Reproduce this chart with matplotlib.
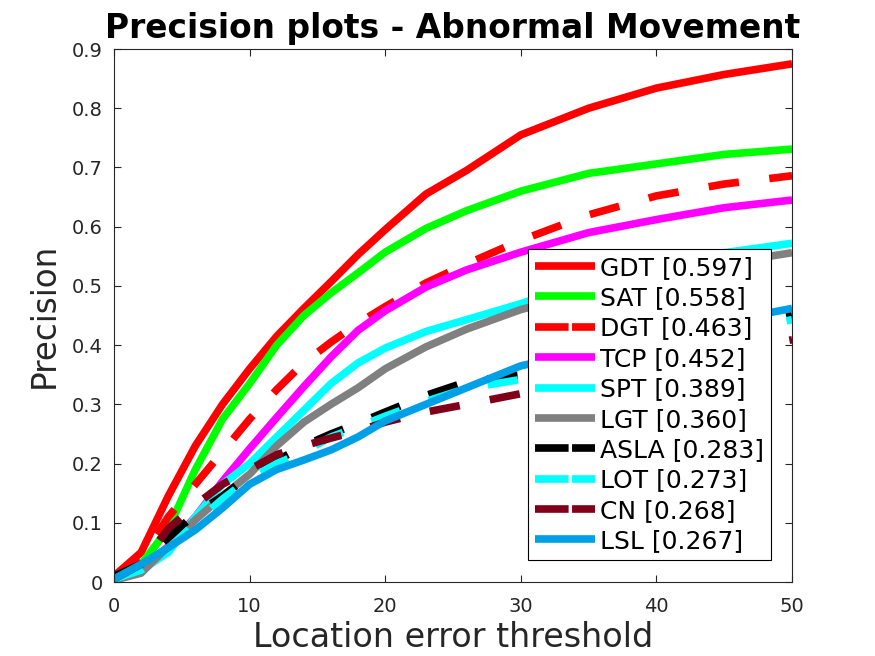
import matplotlib
matplotlib.use("Agg")
import matplotlib.pyplot as plt

thresholds = [0, 2, 4, 6, 8, 10, 12, 14, 16, 18, 20, 23, 26, 30, 35, 40, 45, 50]

names = ["GDT", "SAT", "DGT", "TCP", "SPT", "LGT", "ASLA", "LOT", "CN", "LSL"]
scores = ["0.597", "0.558", "0.463", "0.452", "0.389", "0.360", "0.283", "0.273", "0.268", "0.267"]

gdt  = [0.010, 0.050, 0.145, 0.230, 0.300, 0.360, 0.415, 0.462, 0.507, 0.553, 0.595, 0.655, 0.695, 0.755, 0.800, 0.834, 0.857, 0.875]
sat  = [0.005, 0.030, 0.090, 0.190, 0.275, 0.335, 0.400, 0.450, 0.488, 0.522, 0.557, 0.597, 0.627, 0.660, 0.690, 0.706, 0.722, 0.731]
dgt  = [0.010, 0.040, 0.110, 0.165, 0.220, 0.275, 0.325, 0.370, 0.405, 0.437, 0.465, 0.505, 0.537, 0.577, 0.620, 0.652, 0.672, 0.686]
tcp  = [0.005, 0.020, 0.060, 0.110, 0.170, 0.225, 0.278, 0.330, 0.380, 0.425, 0.458, 0.498, 0.527, 0.557, 0.590, 0.612, 0.632, 0.645]
spt  = [0.005, 0.020, 0.050, 0.110, 0.165, 0.200, 0.245, 0.290, 0.335, 0.370, 0.395, 0.423, 0.443, 0.470, 0.508, 0.535, 0.556, 0.572]
lgt  = [0.003, 0.015, 0.060, 0.105, 0.145, 0.182, 0.230, 0.270, 0.300, 0.328, 0.360, 0.397, 0.427, 0.460, 0.490, 0.515, 0.538, 0.556]
asla = [0.010, 0.030, 0.075, 0.115, 0.145, 0.180, 0.205, 0.230, 0.250, 0.268, 0.287, 0.315, 0.338, 0.350, 0.375, 0.400, 0.428, 0.450]
lot  = [0.005, 0.020, 0.055, 0.100, 0.140, 0.175, 0.200, 0.220, 0.245, 0.262, 0.280, 0.305, 0.327, 0.342, 0.370, 0.395, 0.420, 0.443]
cn   = [0.005, 0.030, 0.090, 0.130, 0.165, 0.190, 0.215, 0.230, 0.243, 0.255, 0.270, 0.287, 0.300, 0.318, 0.345, 0.370, 0.390, 0.409]
lsl  = [0.005, 0.030, 0.058, 0.088, 0.125, 0.165, 0.190, 0.206, 0.223, 0.245, 0.272, 0.300, 0.328, 0.365, 0.390, 0.415, 0.440, 0.462]

series = [gdt, sat, dgt, tcp, spt, lgt, asla, lot, cn, lsl]
colors = ["#ff0000", "#00ff00", "#ff0000", "#ff00ff", "#00ffff", "#808080",
          "#000000", "#00ffff", "#80001a", "#00a0e6"]
dashed = [False, False, True, False, False, False, True, True, True, False]

fig = plt.figure(figsize=(8.75, 6.56), dpi=100)
ax = fig.add_axes([0.1303, 0.1128, 0.7749, 0.8125])

for name, sc, ys, c, d in zip(names, scores, series, colors, dashed):
    ax.plot(thresholds, ys, color=c, linestyle=(0, (4, 4)) if d else "-", linewidth=5.5,
            label=f"{name} [{sc}]", solid_capstyle="butt", dash_capstyle="butt")

ax.set_xlim(0, 50)
ax.set_ylim(0, 0.9)
ax.set_xticks([0, 10, 20, 30, 40, 50])
ax.set_xticklabels(["0", "10", "20", "30", "40", "50"])
ax.set_yticks([0, 0.1, 0.2, 0.3, 0.4, 0.5, 0.6, 0.7, 0.8, 0.9])
ax.set_yticklabels(["0", "0.1", "0.2", "0.3", "0.4", "0.5", "0.6", "0.7", "0.8", "0.9"])

dark = "#262626"
ax.tick_params(direction="in", top=True, right=True, length=5, width=0.8,
               colors=dark, labelsize=14)
ax.tick_params(axis="x", pad=10.5)
ax.tick_params(axis="y", pad=8)
for sp in ax.spines.values():
    sp.set_color(dark)
    sp.set_linewidth(0.8)

ax.set_xlabel("Location error threshold", fontsize=24, color=dark, labelpad=4)
ax.set_ylabel("Precision", fontsize=23.5, color=dark, labelpad=8)
ax.set_title("Precision plots - Abnormal Movement", fontsize=23.7,
             fontweight="bold", color="black", pad=8)

leg = ax.legend(loc="lower right", bbox_to_anchor=(0.969, 0.041), borderaxespad=0,
                fontsize=18, handlelength=2.4, handletextpad=0.22, labelspacing=0.255,
                borderpad=0.28, fancybox=False, framealpha=1, edgecolor="black")
leg.get_frame().set_linewidth(0.8)
for t in leg.get_texts():
    t.set_color("black")
for ln, d in zip(leg.get_lines(), dashed):
    if d:
        ln.set_linestyle((0, (4.4, 0.45, 4.4, 0.45)))

fig.savefig("out.png", dpi=100)
